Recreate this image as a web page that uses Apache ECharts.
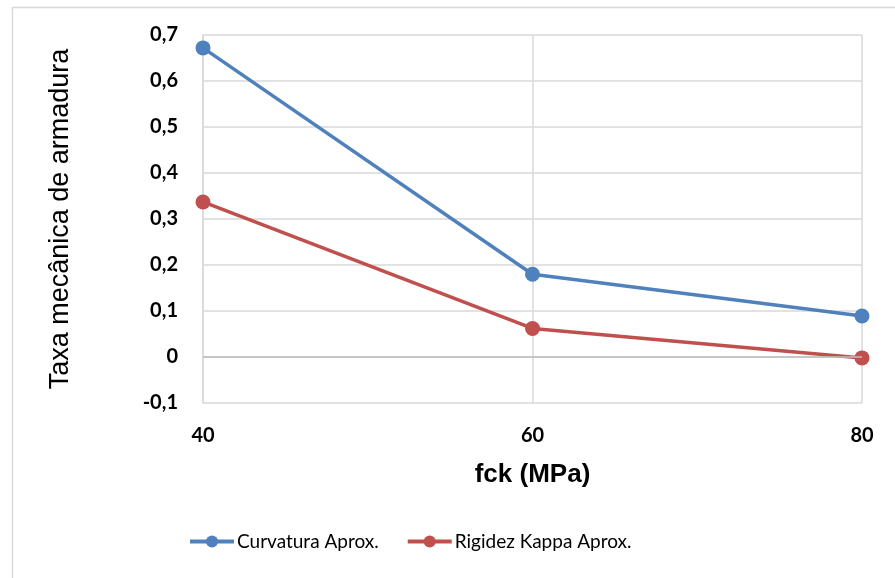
<!DOCTYPE html>
<html>
<head>
<meta charset="utf-8">
<script src="https://cdn.jsdelivr.net/npm/echarts@6/dist/echarts.min.js"></script>
<style>html,body{margin:0;padding:0;background:#fff}#c{width:895px;height:578px}</style>
</head>
<body>
<div id="c"></div>
<script>
const xValues = [40, 60, 80];
const curvatura = [0.672, 0.18, 0.089];
const rigidez = [0.337, 0.062, -0.002];
const seriesNames = ['Curvatura Aprox.', 'Rigidez Kappa Aprox.'];
const xTicks = {min: 40, max: 80, interval: 20};
const yTicks = {min: -0.1, max: 0.7, interval: 0.1};

const chart = echarts.init(document.getElementById('c'), null, {renderer: 'canvas'});
const fmtY = v => {
  const r = Math.round(v * 10) / 10;
  if (r === 0) return '0';
  return r.toFixed(1).replace('.', ',');
};
chart.setOption({
  animation: false,
  backgroundColor: '#fff',
  graphic: [{
    type: 'rect', left: 10, top: 5, shape: {width: 900, height: 600},
    style: {fill: 'none', stroke: '#d9d9d9', lineWidth: 1.5}, silent: true, z: -1
  }],
  grid: {left: 203, right: 33, top: 35, bottom: 175},
  legend: {
    left: 188, top: 532, padding: 0, itemWidth: 44, itemHeight: 15, itemGap: 27,
    lineStyle: {width: 4},
    textStyle: {fontFamily: 'Lato', fontSize: 19, color: '#000', padding: [0, 0, 0, -2]},
    data: seriesNames
  },
  xAxis: {
    type: 'value', min: xTicks.min, max: xTicks.max, interval: xTicks.interval,
    name: 'fck (MPa)', nameLocation: 'middle', nameGap: 59,
    nameTextStyle: {fontFamily: 'Liberation Sans', fontWeight: 'bold', fontSize: 26, color: '#000'},
    axisLine: {show: true, lineStyle: {color: '#d9d9d9', width: 1.5}},
    axisTick: {show: false},
    axisLabel: {margin: 23, fontFamily: 'Lato', fontWeight: 'bold', fontSize: 20, color: '#000'},
    splitLine: {show: true, lineStyle: {color: '#d9d9d9', width: 1.5}}
  },
  yAxis: {
    type: 'value', min: yTicks.min, max: yTicks.max, interval: yTicks.interval,
    name: 'Taxa mecânica de armadura', nameLocation: 'middle', nameGap: 129,
    nameTextStyle: {fontFamily: 'Liberation Sans', fontSize: 27, color: '#000'},
    axisLine: {show: true, onZero: false, lineStyle: {color: '#d9d9d9', width: 1.5}},
    axisTick: {show: false},
    axisLabel: {margin: 25, fontFamily: 'Lato', fontWeight: 'bold', fontSize: 20, color: '#000', formatter: fmtY},
    splitLine: {show: true, lineStyle: {color: '#d9d9d9', width: 1.5}}
  },
  series: [
    {
      name: seriesNames[0], type: 'line',
      data: xValues.map((x, i) => [x, curvatura[i]]),
      symbol: 'circle', symbolSize: 15,
      itemStyle: {color: '#4f81bd'}, lineStyle: {color: '#4f81bd', width: 3.5},
      markLine: {silent: true, symbol: 'none', label: {show: false},
        lineStyle: {color: '#bfbfbf', type: 'solid', width: 1.5}, data: [{yAxis: 0}]},
      z: 3
    },
    {
      name: seriesNames[1], type: 'line',
      data: xValues.map((x, i) => [x, rigidez[i]]),
      symbol: 'circle', symbolSize: 15,
      itemStyle: {color: '#c0504d'}, lineStyle: {color: '#c0504d', width: 3.5},
      z: 3
    }
  ]
});
</script>
</body>
</html>
